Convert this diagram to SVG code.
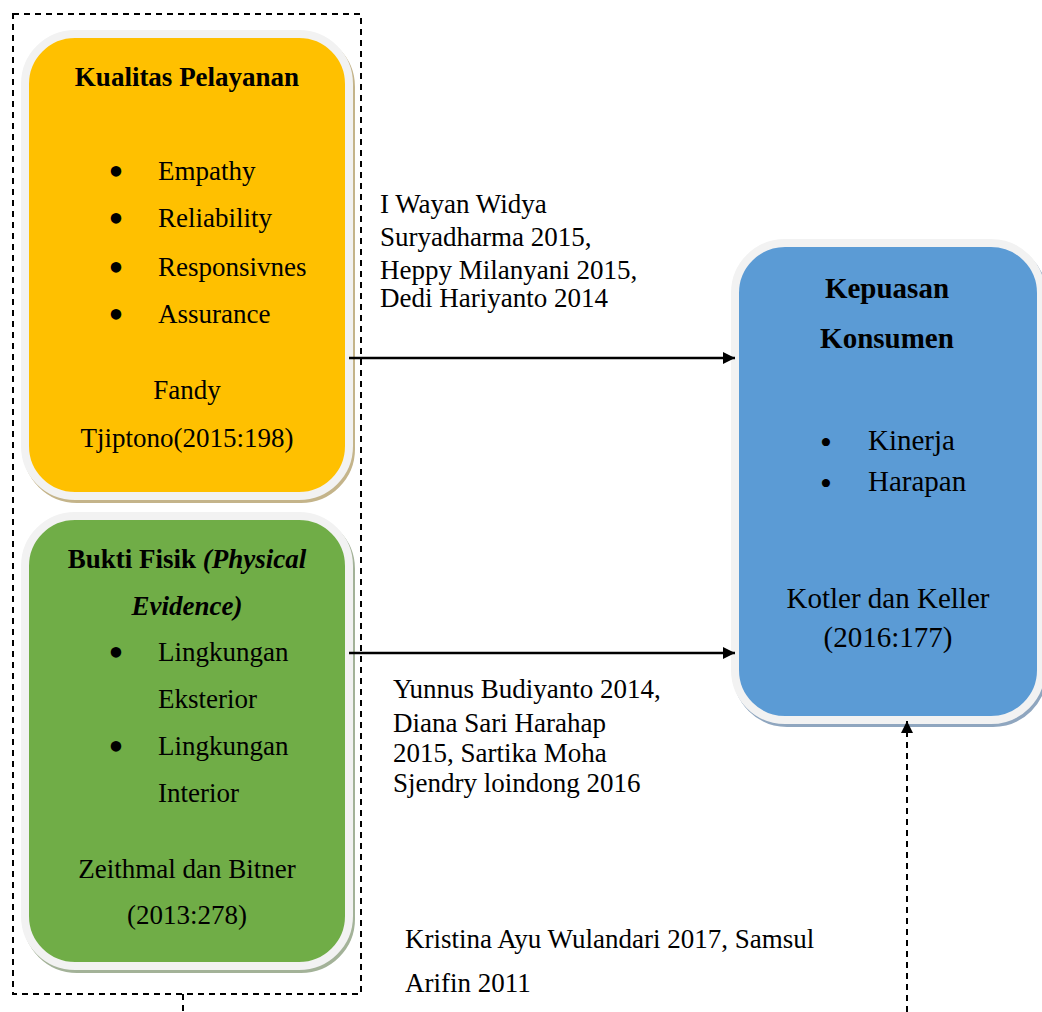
<svg xmlns="http://www.w3.org/2000/svg" width="1042" height="1012" viewBox="0 0 1042 1012">
<style>
text{font-family:"Liberation Serif","Times New Roman",serif;fill:#000}
.t{font-size:27px}
.m{font-size:27px}
.b{font-size:29px}
.bu{font-size:44px;text-anchor:middle}
.bs{font-size:34px;text-anchor:middle}
.bold{font-weight:bold}
.c{text-anchor:middle}
.box{stroke:#f2f2f2;stroke-width:8}
.conn{stroke:#000;stroke-width:2.5;fill:none}
.dash{stroke:#000;stroke-width:2;fill:none;stroke-dasharray:6 5}
</style>
<defs>
<marker id="ah" viewBox="0 0 10 10" refX="10" refY="5" markerWidth="15" markerHeight="12" markerUnits="userSpaceOnUse" orient="auto">
<path d="M0,0 L10,5 L0,10 z" fill="#000"/>
</marker>
</defs>
<rect width="1042" height="1012" fill="#fff"/>
<g id="frame">
<rect x="13" y="14" width="348" height="980" class="dash"/>
<line x1="183" y1="994" x2="183" y2="1012" class="dash"/>
</g>
<g id="kualitas">
<rect x="27" y="37" width="324" height="462" rx="50" fill="#c4b48a" stroke="#c4b48a" stroke-width="8"/>
<rect x="25" y="34" width="324" height="462" rx="50" fill="#FFC000" class="box"/>
<text x="187" y="86" class="t bold c">Kualitas Pelayanan</text>
<g class="t">
<text x="116" y="186" class="bu">•</text><text x="158" y="180">Empathy</text>
<text x="116" y="233" class="bu">•</text><text x="158" y="227">Reliability</text>
<text x="116" y="282" class="bu">•</text><text x="158" y="276">Responsivnes</text>
<text x="116" y="329" class="bu">•</text><text x="158" y="323">Assurance</text>
</g>
<text x="187" y="399" class="t c">Fandy</text>
<text x="187" y="447" class="t c">Tjiptono(2015:198)</text>
</g>
<g id="bukti">
<rect x="27" y="519" width="324" height="450" rx="50" fill="#a3b298" stroke="#a3b298" stroke-width="8"/>
<rect x="25" y="516" width="324" height="450" rx="50" fill="#70AD47" class="box"/>
<text x="187" y="568" class="t bold c">Bukti Fisik <tspan font-style="italic">(Physical</tspan></text>
<text x="187" y="615" class="t bold c" font-style="italic">Evidence)</text>
<g class="t">
<text x="116" y="667" class="bu">•</text><text x="158" y="661">Lingkungan</text>
<text x="158" y="708">Eksterior</text>
<text x="116" y="761" class="bu">•</text><text x="158" y="755">Lingkungan</text>
<text x="158" y="802">Interior</text>
</g>
<text x="187" y="878" class="t c">Zeithmal dan Bitner</text>
<text x="187" y="924" class="t c">(2013:278)</text>
</g>
<g id="kepuasan">
<rect x="737" y="246" width="306" height="477" rx="50" fill="#8fa6bf" stroke="#8fa6bf" stroke-width="8"/>
<rect x="735" y="243" width="306" height="477" rx="50" fill="#5B9BD5" class="box"/>
<text x="887" y="298" class="b bold c">Kepuasan</text>
<text x="887" y="348" class="b bold c">Konsumen</text>
<g class="b">
<text x="826" y="454" class="bs">•</text><text x="868" y="450">Kinerja</text>
<text x="826" y="495" class="bs">•</text><text x="868" y="491">Harapan</text>
</g>
<text x="888" y="608" class="b c">Kotler dan Keller</text>
<text x="888" y="647" class="b c">(2016:177)</text>
</g>
<g id="connectors">
<line x1="349" y1="358" x2="735" y2="358" class="conn" marker-end="url(#ah)"/>
<line x1="349" y1="653" x2="735" y2="653" class="conn" marker-end="url(#ah)"/>
<line x1="907" y1="1012" x2="907" y2="721" class="dash" marker-end="url(#ah)"/>
</g>
<g id="labels" class="m">
<text x="380" y="213">I Wayan Widya</text>
<text x="380" y="246">Suryadharma 2015,</text>
<text x="380" y="279">Heppy Milanyani 2015,</text>
<text x="380" y="307">Dedi Hariyanto 2014</text>
<text x="393" y="698">Yunnus Budiyanto 2014,</text>
<text x="393" y="732">Diana Sari Harahap</text>
<text x="393" y="762">2015, Sartika Moha</text>
<text x="393" y="792">Sjendry loindong 2016</text>
<text x="405" y="948">Kristina Ayu Wulandari 2017, Samsul</text>
<text x="405" y="992">Arifin 2011</text>
</g>
</svg>
